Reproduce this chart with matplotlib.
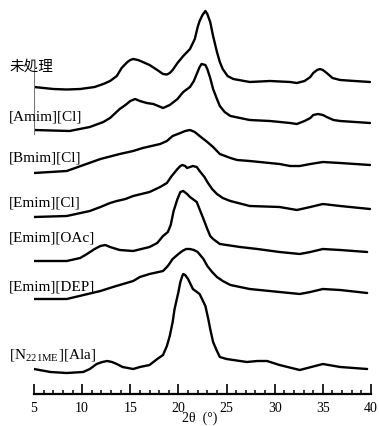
import matplotlib
matplotlib.use("Agg")
import matplotlib.pyplot as plt
import numpy as np

plt.rcParams['font.family'] = ['Liberation Serif', 'DejaVu Serif']
plt.rcParams['mathtext.fontset'] = 'stix'

# ---- data (2theta in degrees, intensity in arbitrary units) ----
labels = ['未処理', '[Amim][Cl]', '[Bmim][Cl]', '[Emim][Cl]', '[Emim][OAc]', '[Emim][DEP]',
          r'[N$_{\mathregular{221ME}}$][Ala]']
offsets = [304, 262, 220, 177, 132, 94, 20]

x1 = [5.0,7.0,8.4,9.8,11.3,12.2,12.9,13.6,14.1,14.7,15.0,15.3,15.8,16.3,17.0,17.8,18.4,18.8,19.1,19.4,
      19.9,20.5,21.2,21.7,22.0,22.2,22.5,22.8,23.0,23.3,23.6,24.0,24.3,24.6,25.1,25.7,27.4,29.5,31.6,32.3,
      33.1,33.7,34.0,34.4,34.7,35.0,35.4,36.0,36.8,38.3,39.9]
y1 = [3,1,0.5,1,3,6,9,14,22,28,30,31,30,28,25,20,16,15.5,17,20,
      27,34,41,51,63,69,75,79,76,68,54,38,28,21,14,11,8,9,8,7,
      9,13,17,20,21,20,17,12,10,9,8]

x2 = [5.0,8.7,10.8,12.2,12.9,13.9,14.5,15.0,15.5,16.0,16.7,17.4,17.9,18.4,19.1,19.9,20.5,21.2,21.6,21.9,
      22.2,22.4,22.8,23.0,23.3,23.6,24.0,24.3,24.8,25.4,27.4,29.5,31.6,32.3,33.1,33.7,34.0,34.5,35.0,35.4,
      36.1,36.8,39.9]
y2 = [2,1,5,10,14,23,27,31,33,31,29,28,26,24,27,33,40,45,51,58,
      65,68,67,63,54,43,33,26,20,16,12,11,9,8,11,14,17,18,17,15,
      12,11,9]

x3 = [5.0,8.4,11.9,13.9,15.3,16.3,18.1,18.8,19.4,20.2,20.7,21.2,21.7,22.2,23.0,23.6,24.3,25.4,26.1,27.4,
      30.5,31.6,32.6,33.7,35.0,36.8,39.9]
y3 = [1,3,15,20,23,26,30,33,38,41,43,44,42,38,32,27,20,16,14,13,
      10,8,8,10,12,11,9]

x4 = [5.0,8.4,10.8,11.9,12.9,13.6,14.5,15.3,17.0,18.1,18.8,19.3,19.9,20.2,20.4,20.7,20.9,21.2,21.5,21.9,
      22.2,22.7,23.0,23.5,24.0,24.6,25.4,27.4,30.5,32.3,33.7,35.0,36.8,39.9]
y4 = [0,1,6,10,14,16,18,21,25,30,34,41,48,51,52,51,49,50,51,50,
      46,40,35,28,23,19,16,11,10,7,10,13,11,8]

x5 = [5.0,8.4,9.8,10.5,11.3,11.9,12.4,12.9,13.9,15.3,17.0,17.8,18.4,18.9,19.2,19.5,19.9,20.2,20.5,20.9,
      21.2,21.9,22.6,23.0,23.3,23.6,24.3,26.4,28.2,30.5,32.6,33.7,35.0,36.8,39.6]
y5 = [1,1,4,8,13,16,17,15,12,11,15,19,26,30,37,51,63,70,71,68,
      65,60,43,33,26,23,18,15,13,10,8,10,13,12,10]

x6 = [5.0,8.4,11.9,13.2,15.3,16.0,17.0,18.4,18.9,19.4,20.0,20.4,20.8,21.2,21.6,22.0,22.6,23.0,23.5,24.0,
      24.6,25.4,27.4,30.5,32.6,33.7,35.0,36.8,39.6]
y6 = [1,1,9,13,19,23,26,29,34,41,46,49,51,51,50,48,41,34,28,23,
      19,15,11,8,6,8,11,10,7]

x7 = [5.0,6.7,8.4,10.1,10.8,11.5,12.1,12.6,13.1,13.6,14.2,15.3,16.0,17.0,17.8,18.4,18.8,19.1,19.4,19.6,
      20.0,20.2,20.4,20.5,20.7,21.0,21.5,22.2,22.8,23.1,23.3,23.6,24.0,24.3,25.0,27.1,28.2,29.2,30.5,32.6,
      35.0,36.8,39.6]
y7 = [5,2,1,2,5,10,12,13,12,10,7,5,7,9,15,19,28,38,52,65,
      82,92,98,100,99,95,85,80,68,55,45,32,23,17,15,12,13,13,9,4,
      10,7,5]

xs = [x1, x2, x3, x4, x5, x6, x7]
ys = [y1, y2, y3, y4, y5, y6, y7]

xticks = [5, 10, 15, 20, 25, 30, 35, 40]

# ---- figure ----
W, H = 379, 427
fig = plt.figure(figsize=(W / 100, H / 100), dpi=100)
ax = fig.add_axes([34 / W, 32 / H, 337 / W, 395 / H])

for x, y, off in zip(xs, ys, offsets):
    ax.plot(x, np.array(y) + off, color='black', lw=1.7, solid_joinstyle='round',
            solid_capstyle='round')

ax.set_xlim(5, 40)
ax.set_ylim(0, 395)
for s in ['left', 'right', 'top']:
    ax.spines[s].set_visible(False)
ax.spines['bottom'].set_linewidth(1.6)
ax.set_yticks([])
ax.set_xticks(xticks)
ax.set_xticks(np.arange(5, 41, 1), minor=True)
ax.tick_params(axis='x', which='major', direction='in', length=7, width=1.2, labelsize=10, pad=5)
ax.tick_params(axis='x', which='minor', direction='in', length=2.8, width=1.1)
ax.patch.set_visible(False)

# stray thin vertical line near the left
ax.axvline(5.0, ymin=(395 - 135) / 395, ymax=(395 - 70) / 395, color='#777777', lw=0.8)

fig.text(200 / W, 1.5 / H, '2θ  (°)', ha='center', va='bottom', fontsize=10)

label_y = [67, 117, 158, 203, 238, 287, 355]
for lab, yy in zip(labels, label_y):
    if lab == '未処理':
        fig.text(9 / W, (H - yy) / H, lab, ha='left', va='center', fontsize=10.5,
                 family=['Noto Sans CJK JP', 'DejaVu Sans'])
    else:
        fig.text(9 / W, (H - yy) / H, lab, ha='left', va='center', fontsize=11)

fig.savefig('out.png', dpi=100)
